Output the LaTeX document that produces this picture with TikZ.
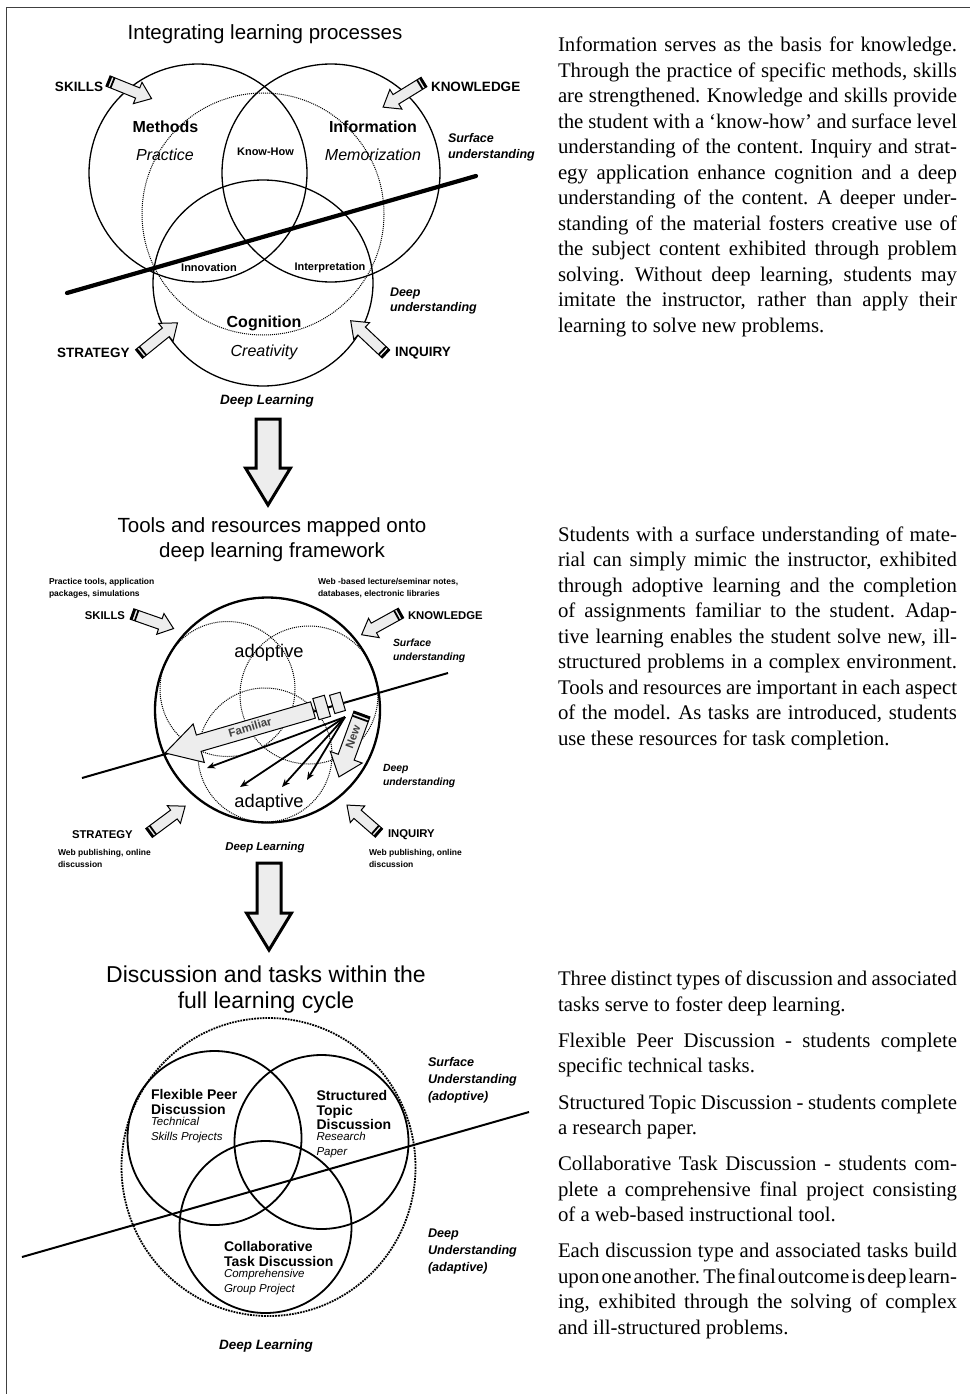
\documentclass[tikz,border=0pt]{standalone}
\usepackage{fontspec}
\setmainfont{Liberation Serif}
\setsansfont{Liberation Sans}
\usetikzlibrary{arrows.meta}

\newcommand{\fsz}[2]{\fontsize{#1}{#2}\selectfont}
\newlength{\colw}\setlength{\colw}{399pt}
% one justified line of the side text, and a closing (ragged) line
\newcommand{\jline}[1]{\hbox to \colw{#1}}
\newcommand{\lline}[1]{\hbox{#1}}
% gap between paragraphs of the side text
\newcommand{\pgap}{\par\vspace{10.7pt}}
% tight, elastic word spacing for the side text
\newcommand{\sidespace}{\spaceskip=0.25em plus 0.6em minus 0.22em\relax
  \xspaceskip=0.3em plus 0.6em minus 0.2em\relax}

\definecolor{arrfill}{gray}{0.93}

% grey block arrow with a striped tail:
% tail x, tail y, direction, length, shaft half width, head half width, head length
\newcommand{\fatarrow}[7]{%
  \begin{scope}[shift={(#1,#2)},rotate=#3]
    \draw[fatbody] (0,-#5) -- ({#4-#7},-#5) -- ({#4-#7},-#6) -- (#4,0)
      -- ({#4-#7},#6) -- ({#4-#7},#5) -- (0,#5) -- cycle;
    \fill[black] (0,-#5) rectangle (2.4,#5);
    \fill[black] (4,-#5) rectangle (5.8,#5);
  \end{scope}}

\begin{document}
\begin{tikzpicture}[x=1pt,y=-1pt,
  every node/.style={inner sep=0pt,outer sep=0pt},
  fatbody/.style={draw=black,fill=arrfill,line width=1pt,line join=miter},
  downarrow/.style={draw=black,fill=arrfill,line width=3pt,line join=miter},
  ring/.style={line width=1.3pt},
  dotring/.style={line width=1pt,densely dotted},
  title/.style={font=\sffamily\fsz{20.5}{25},align=center},
  bigtitle/.style={font=\sffamily\fsz{23}{26},align=center},
  head/.style={font=\sffamily\bfseries\fsz{16}{18}},
  proc/.style={font=\sffamily\itshape\fsz{16}{18}},
  overlap/.style={font=\sffamily\bfseries\fsz{11}{13}},
  capsA/.style={font=\sffamily\bfseries\fsz{13.5}{15}},
  capsB/.style={font=\sffamily\bfseries\fsz{11.3}{13}},
  zoneA/.style={font=\sffamily\bfseries\itshape\fsz{12.5}{15.5},align=left,anchor=west},
  zoneB/.style={font=\sffamily\bfseries\itshape\fsz{10.4}{14.5},align=left,anchor=west},
  zoneC/.style={font=\sffamily\bfseries\itshape\fsz{12.6}{17},align=left,anchor=west},
  tool/.style={font=\sffamily\bfseries\fsz{8.5}{12},align=left,anchor=west},
  mode/.style={font=\sffamily\fsz{18.3}{20}},
  deepA/.style={font=\sffamily\bfseries\itshape\fsz{13.5}{15}},
  deepB/.style={font=\sffamily\bfseries\itshape\fsz{11.4}{13}},
  discA/.style={font=\sffamily\bfseries\fsz{14}{14.2},align=left,anchor=west},
  discB/.style={font=\sffamily\itshape\fsz{11.5}{14.2},align=left,anchor=west},
  flow/.style={font=\sffamily\bfseries\fsz{11.5}{13},text=black!75},
  thinarr/.style={line width=1.8pt,-{Stealth[length=8pt,width=6.5pt]}},
  para/.style={anchor=north west,text width=\colw,font=\rmfamily\fsz{20.8}{25.5}}
]
\useasboundingbox (0,0) rectangle (970,1394);
\fill[white] (0,0) rectangle (970,1394);

% page frame
\draw[line width=1.6pt,black!75] (6.5,1394) -- (6.5,7.5) -- (970,7.5);

% ---------------- Integrating learning processes ----------------
\node[title] (t1) at (265,34) {Integrating learning processes};

\draw[ring] (198,173) circle (109);
\draw[ring] (331,173) circle (109);
\draw[dotring] (263,214) circle (121);
\draw[ring] (263,283) ellipse [x radius=110,y radius=103];
\draw[line width=4.2pt,line cap=round] (67,293) -- (476,176);

\node[head] (methods) at (165.5,127) {Methods};
\node[proc] (practice) at (165,155) {Practice};
\node[overlap] (knowhow) at (265.5,152) {Know-How};
\node[head] (info) at (373,127) {Information};
\node[proc] (memo) at (373,155) {Memorization};
\node[overlap] (innov) at (209,268) {Innovation};
\node[overlap] (interp) at (330,268) {Interpretation};
\node[head] (cogn) at (264,323) {Cognition};
\node[proc] (creat) at (264,352) {Creativity};
\node[deepA] (deep1) at (267,401) {Deep Learning};
\node[zoneA] (surfA) at (448,147.5) {Surface\\understanding};
\node[zoneA] (deepuA) at (390,301) {Deep\\understanding};

\node[capsA,anchor=east] (skillsA) at (103,87) {SKILLS};
\node[capsA,anchor=west] (knowA) at (431,87) {KNOWLEDGE};
\node[capsA,anchor=west] (stratA) at (57,353) {STRATEGY};
\node[capsA,anchor=west] (inqA) at (395,353) {INQUIRY};

\fatarrow{108}{81}{-22}{47}{5.5}{11.5}{15}
\fatarrow{424}{82}{-148.4}{48}{5.5}{11.5}{15}
\fatarrow{139}{354}{39}{49.5}{5.5}{11.5}{15}
\fatarrow{386}{354}{136.7}{48.5}{5.5}{11.5}{15}

% step down
\draw[downarrow] (256,419) -- (280,419) -- (280,468) -- (290.5,468) -- (268,505)
  -- (245.5,468) -- (256,468) -- cycle;

% ---------------- Tools and resources ----------------
\node[title] (t2) at (272,539.5) {Tools and resources mapped onto\\deep learning framework};

\draw[dotring] (227.5,689) circle (67.5);
\draw[dotring] (309,695) circle (69);
\draw[dotring] (265,755) circle (67);
\draw[line width=2.3pt] (267.5,710) circle (112.5);
\draw[line width=2pt] (82,778) -- (448,673);

\node[tool] (toolsS) at (49,588) {Practice tools, application\\packages, simulations};
\node[tool] (toolsK) at (318,588) {Web -based lecture/seminar notes,\\databases, electronic libraries};
\node[tool] (toolsT) at (58,858.5) {Web publishing, online\\discussion};
\node[tool] (toolsI) at (369,858.5) {Web publishing, online\\discussion};

\node[capsB,anchor=east] (skillsB) at (125,616) {SKILLS};
\node[capsB,anchor=west] (knowB) at (408,616) {KNOWLEDGE};
\node[capsB,anchor=west] (stratB) at (72,835) {STRATEGY};
\node[capsB,anchor=west] (inqB) at (388,835) {INQUIRY};

\fatarrow{132}{614}{-19.3}{44}{5.5}{11}{14}
\fatarrow{401}{613}{-151.1}{45}{5.5}{11}{14}
\fatarrow{149}{833}{36.6}{45}{5.5}{11}{14}
\fatarrow{379}{833}{138.9}{42.5}{5.5}{11}{14}

\node[mode] (adop) at (269,653) {adoptive};
\node[mode] (adap) at (269,803) {adaptive};
\node[zoneB] (surfB) at (393,651) {Surface\\understanding};
\node[zoneB] (deepuB) at (383,776) {Deep\\understanding};
\node[deepB] (deep2) at (265,848) {Deep Learning};

% familiar route
\begin{scope}[shift={(313,710)},rotate=196.2]
  \draw[fatbody] (0,-8.5) -- (119,-8.5) -- (119,-20) -- (154,0) -- (119,20)
    -- (119,8.5) -- (0,8.5) -- cycle;
  \draw[fatbody] (-15,-11) rectangle (-3,11);
  \draw[fatbody] (-31,-9.5) rectangle (-20,9.5);
\end{scope}
\node[flow,rotate=16.2] (fam) at (250,727) {Familiar};

% new route
\fatarrow{362}{714}{-110.1}{67}{8.5}{17}{21}
\node[flow,rotate=69.9] (new) at (353,737) {New};

\coordinate (src) at (345,717);
\coordinate (e1) at (207,768);
\coordinate (e2) at (240,787);
\coordinate (e3) at (282,787);
\coordinate (e4) at (307,780);
\draw[thinarr] (src) -- (e1);
\draw[thinarr] (src) -- (e2);
\draw[thinarr] (src) -- (e3);
\draw[thinarr] (src) -- (e4);

% step down
\draw[downarrow] (257,863) -- (281,863) -- (281,913) -- (291.5,913) -- (269,950)
  -- (246.5,913) -- (257,913) -- cycle;

% ---------------- Discussion and tasks ----------------
\node[bigtitle] (t3) at (266,990) {Discussion and tasks within the\\full learning cycle};

\draw[line width=1.8pt,densely dotted] (268.5,1167) ellipse [x radius=147,y radius=149];
\draw[line width=1.8pt] (214.5,1138) circle (87);
\draw[line width=1.8pt] (321.5,1142) circle (87);
\draw[line width=1.8pt] (265.5,1227) circle (86);
\draw[line width=2pt] (22,1257) -- (529,1112);

\node[discA] (fpd) at (151,1102) {Flexible Peer\\Discussion};
\node[discB] (fpdt) at (151,1130) {Technical\\Skills Projects};
\node[discA] (std) at (316.5,1110) {Structured\\Topic\\Discussion};
\node[discB] (stdt) at (316.5,1145) {Research\\Paper};
\node[discA] (ctd) at (224,1254) {Collaborative\\Task Discussion};
\node[discB] (ctdt) at (224,1282) {Comprehensive\\Group Project};
\node[zoneC] (surfC) at (428,1080) {Surface\\Understanding\\(adoptive)};
\node[zoneC] (deepuC) at (428,1251.5) {Deep\\Understanding\\(adaptive)};
\node[deepA] (deep3) at (266,1346) {Deep Learning};

% ---------------- side text ----------------
\node[para] (p1) at (558,37) {\sidespace
\jline{Information serves as the basis for knowledge.}
\jline{Through the practice of specific methods, skills}
\jline{are strengthened. Knowledge and skills provide}
\jline{the student with a ‘know-how’ and surface level}
\jline{understanding of the content. Inquiry and strat-}
\jline{egy application enhance cognition and a deep}
\jline{understanding of the content. A deeper under-}
\jline{standing of the material fosters creative use of}
\jline{the subject content exhibited through problem}
\jline{solving. Without deep learning, students may}
\jline{imitate the instructor, rather than apply their}
\lline{learning to solve new problems.}};

\node[para] (p2) at (558,526.5) {\sidespace
\jline{Students with a surface understanding of mate-}
\jline{rial can simply mimic the instructor, exhibited}
\jline{through adoptive learning and the completion}
\jline{of assignments familiar to the student. Adap-}
\jline{tive learning enables the student solve new, ill-}
\jline{structured problems in a complex environment.}
\jline{Tools and resources are important in each aspect}
\jline{of the model. As tasks are introduced, students}
\lline{use these resources for task completion.}};

\node[para] (p3) at (558,971) {\sidespace
\jline{Three distinct types of discussion and associated}
\lline{tasks serve to foster deep learning.}
\pgap
\jline{Flexible Peer Discussion - students complete}
\lline{specific technical tasks.}
\pgap
\jline{Structured Topic Discussion - students complete}
\lline{a research paper.}
\pgap
\jline{Collaborative Task Discussion - students com-}
\jline{plete a comprehensive final project consisting}
\lline{of a web-based instructional tool.}
\pgap
\jline{Each discussion type and associated tasks build}
\jline{upon one another. The final outcome is deep learn-}
\jline{ing, exhibited through the solving of complex}
\lline{and ill-structured problems.}};
\end{tikzpicture}
\end{document}
